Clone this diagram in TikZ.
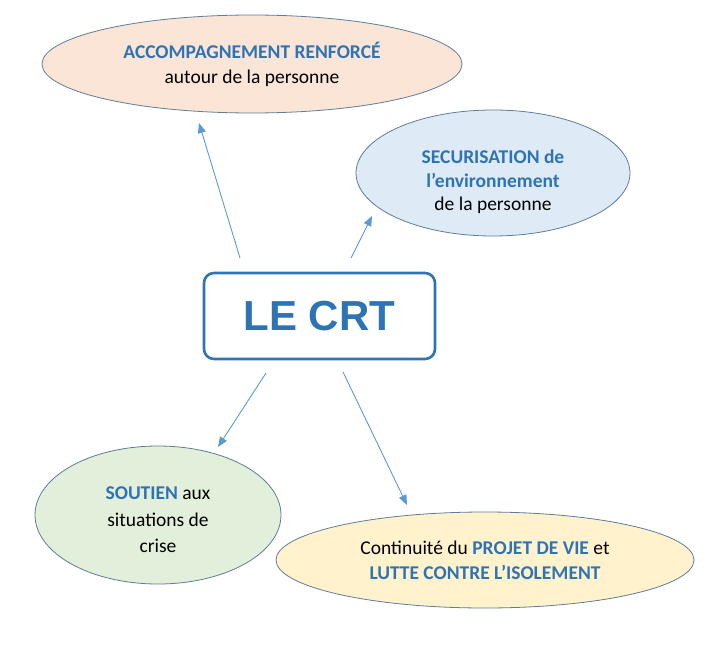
\documentclass[tikz,border=0pt]{standalone}
\usepackage{fontspec}
\setmainfont{Carlito}
\newfontfamily\crtfont{Liberation Sans}
\usetikzlibrary{shapes.geometric,arrows.meta}
\definecolor{tblue}{HTML}{2E74B5}
\definecolor{abl}{HTML}{5B9BD5}
\definecolor{edge}{HTML}{5F7C99}
\definecolor{cpeach}{HTML}{FBE5D6}
\definecolor{cblue}{HTML}{DEEBF7}
\definecolor{cgreen}{HTML}{E2EFDA}
\definecolor{cyellow}{HTML}{FFF2CC}
\newcommand{\bl}[1]{\textcolor{tblue}{\textbf{#1}}}
\begin{document}
\begin{tikzpicture}[x=1pt,y=-1pt,
  bub/.style={ellipse,draw=edge,line width=0.8pt,inner sep=0pt,align=center},
  txt/.style={align=center,inner sep=0pt,font=\fontsize{19.5}{25}\selectfont},
  arr/.style={draw=abl,line width=0.9pt,-{Triangle[length=10pt,width=8pt]}}]
\useasboundingbox (0,0) rectangle (719,647);
\node[bub,fill=cpeach,minimum width=420pt,minimum height=98pt,font=\fontsize{19.5}{25}\selectfont] (acc) at (252,64)
  {\bl{ACCOMPAGNEMENT RENFORCÉ}\\autour de la personne};
\node[bub,fill=cblue,minimum width=274pt,minimum height=126pt] (sec) at (493,173) {};
\node[txt,font=\fontsize{19.5}{23.5}\selectfont] (secT) at ([yshift=-9pt]sec.center)
  {\bl{SECURISATION de}\\\bl{l’environnement}\\de la personne};
\node[draw=tblue,line width=2.6pt,rounded corners=10pt,minimum width=231pt,minimum height=86pt,
  font=\crtfont\fontsize{42}{46}\selectfont\bfseries,text=tblue] (crt) at (319.5,316) {\raisebox{-2pt}{LE CRT}};
\node[bub,fill=cgreen,minimum width=246pt,minimum height=138pt] (sou) at (158,515) {};
\node[txt,font=\fontsize{19.5}{26.5}\selectfont] (souT) at ([yshift=-5pt]sou.center)
  {\bl{SOUTIEN} aux\\situations de\\crise};
\node[bub,fill=cyellow,minimum width=418pt,minimum height=96pt,font=\fontsize{19.5}{25}\selectfont] (con) at (485,560)
  {Continuité du \bl{PROJET DE VIE} et\\\bl{LUTTE CONTRE L’ISOLEMENT}};
\coordinate (a1s) at (240,258); \coordinate (a1e) at (199,123);
\coordinate (a2s) at (351,258); \coordinate (a2e) at (372,216);
\coordinate (a3s) at (266,373); \coordinate (a3e) at (218,447);
\coordinate (a4s) at (343,372); \coordinate (a4e) at (407,505);
\draw[arr] (a1s) -- (a1e);
\draw[arr] (a2s) -- (a2e);
\draw[arr] (a3s) -- (a3e);
\draw[arr] (a4s) -- (a4e);
\end{tikzpicture}
\end{document}
